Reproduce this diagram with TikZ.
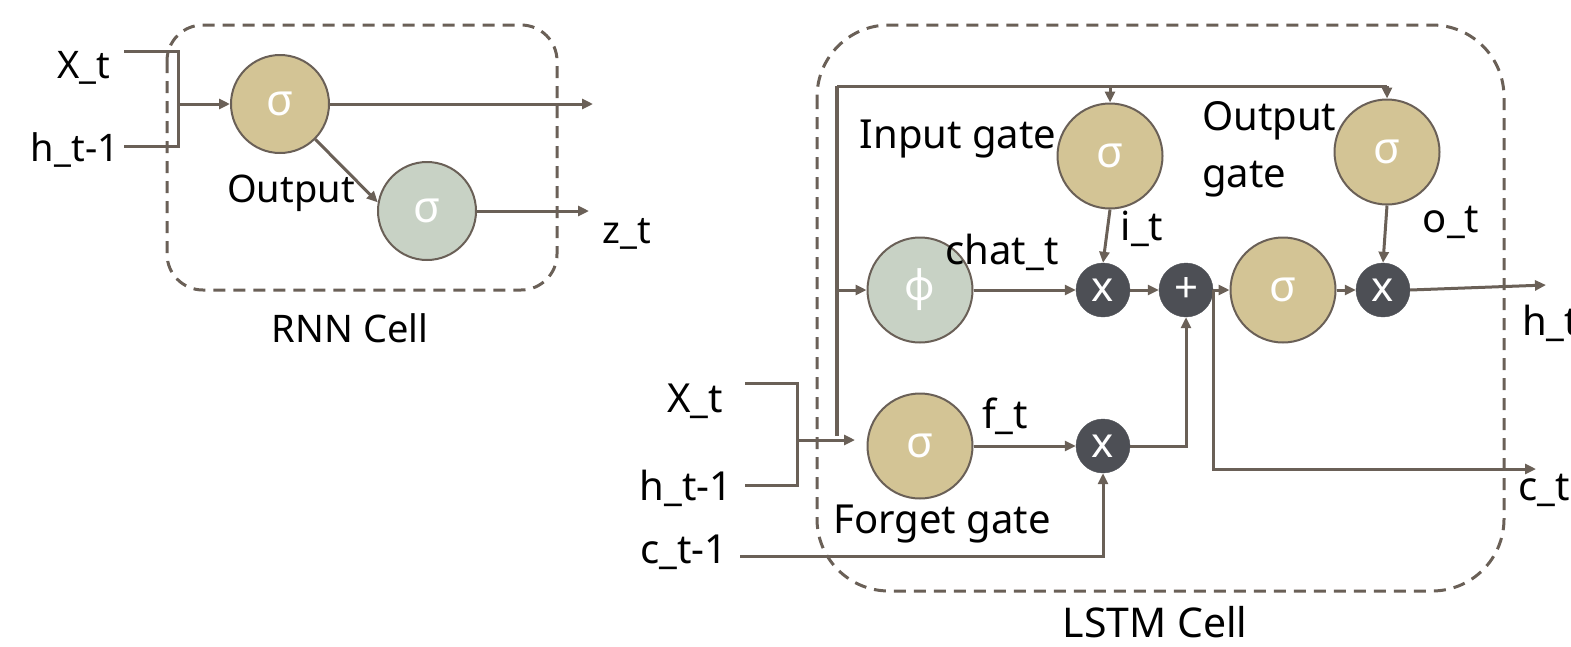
\documentclass[tikz,border=0pt]{standalone}
\usepackage{fontspec}
\setmainfont{Noto Sans}
\usetikzlibrary{arrows.meta}
\definecolor{tanc}{HTML}{D3C495}
\definecolor{sagec}{HTML}{C8D2C5}
\definecolor{darkc}{HTML}{4D4F55}
\definecolor{linec}{HTML}{6A6057}
\tikzset{
  circ/.style={circle, draw=linec, line width=2pt, inner sep=0pt, text=white,
    font=\fontsize{44}{48}\selectfont},
  bigtan/.style={circ, fill=tanc, minimum size=105pt},
  bigsage/.style={circ, fill=sagec, minimum size=105pt},
  rtan/.style={circ, fill=tanc, minimum size=98pt},
  rsage/.style={circ, fill=sagec, minimum size=98pt},
  opc/.style={circle, fill=darkc, draw=darkc, inner sep=0pt, minimum size=54pt, text=white,
    font=\fontsize{42}{46}\selectfont},
  conn/.style={draw=linec, line width=3pt},
  arr/.style={conn, -{Triangle[length=11pt,width=10pt]}},
  dbox/.style={draw=linec, line width=3pt, dash pattern=on 12pt off 8pt},
  lbl/.style={inner sep=0pt, font=\fontsize{40}{46}\selectfont, text=black, anchor=base},
  rlbl/.style={lbl, font=\fontsize{38}{44}\selectfont},
}
\begin{document}
\begin{tikzpicture}[x=1pt,y=-1pt]
\useasboundingbox (0,0) rectangle (1571,646);
% ---------- RNN cell ----------
\draw[dbox, rounded corners=36pt] (167,25) rectangle (557,290);
\node[rtan] (r1) at (280,104) {σ};
\node[rsage] (r2) at (427,211) {σ};
\coordinate (rxa) at (124,51);
\coordinate (rxb) at (178,51);
\coordinate (rha) at (124,146);
\coordinate (rhb) at (178,146);
\coordinate (rj) at (178,104);
\coordinate (rout) at (593,104);
\coordinate (zout) at (589,211);
\draw[conn] (rxa) -- (rxb) -- (rhb) -- (rha);
\draw[arr] (rj) -- (r1.west);
\draw[arr] (r1.east) -- (rout);
\draw[arr] (r1.-45) -- (r2.170);
\draw[arr] (r2.east) -- (zout);
\node[rlbl] (lx1) at (84,78) {X\_t};
\node[rlbl] (lh1) at (75,161) {h\_t-1};
\node[rlbl] (lout) at (291,202) {Output};
\node[rlbl] (lz) at (627,243) {z\_t};
\node[rlbl] (lrnn) at (350,342) {RNN Cell};
% ---------- LSTM cell ----------
\draw[dbox, rounded corners=72pt] (817,25) rectangle (1504,591);
\node[bigtan] (ig) at (1110,156) {σ};
\node[bigtan] (og) at (1387,152) {σ};
\node[bigsage, font=\fontsize{42}{46}\selectfont] (phi) at (920,290) {ϕ};
\node[bigtan] (fg) at (920,446) {σ};
\node[bigtan] (sg) at (1283,290) {σ};
\node[opc] (x1) at (1103,290) {x};
\node[opc] (pl) at (1186,290) {+};
\node[opc] (x3) at (1383,290) {x};
\node[opc] (x2) at (1103,446) {x};
\coordinate (tb) at (837,436);
\coordinate (tt) at (837,86);
\coordinate (tig) at (1110,86);
\coordinate (tog) at (1387,86);
\coordinate (tphi) at (837,290);
\coordinate (bxa) at (745,383);
\coordinate (bxb) at (797,383);
\coordinate (bha) at (745,485);
\coordinate (bhb) at (797,485);
\coordinate (bj) at (797,440);
\coordinate (bend) at (855,440);
\coordinate (cin) at (740,556);
\coordinate (cbr) at (1213,290);
\coordinate (cbd) at (1213,469);
\coordinate (cout) at (1536,469);
\coordinate (hout) at (1546,285);
\draw[conn, line width=4.3pt] (tb) -- (tt);
\draw[conn] (tt) -- (tog);
\draw[arr] (tig) -- (ig.north);
\draw[arr] (tog) -- (og.north);
\draw[arr] (tphi) -- (phi.west);
\draw[conn] (bxa) -- (bxb) -- (bhb) -- (bha);
\draw[arr] (bj) -- (bend);
\draw[arr] (cin) -| (x2.south);
\draw[arr] (fg.east) -- (x2.west);
\draw[arr] (x2.east) -| (pl.south);
\draw[arr] (phi.east) -- (x1.west);
\draw[arr] (ig.south) -- (x1.north);
\draw[arr] (og.south) -- (x3.north);
\draw[arr] (x1.east) -- (pl.west);
\draw[arr] (pl.east) -- (sg.west);
\draw[arr] (sg.east) -- (x3.west);
\draw[arr] (x3.east) -- (hout);
\draw[arr] (cbr) -- (cbd) -- (cout);
\node[lbl] (lig) at (958,148) {Input gate};
\node[lbl] (lch) at (1002,264) {chat\_t};
\node[lbl] (lit) at (1142,240) {i\_t};
\node[lbl, anchor=base west] (log1) at (1202,130) {Output};
\node[lbl, anchor=base west] (log2) at (1202,187) {gate};
\node[lbl] (lot) at (1451,232) {o\_t};
\node[lbl] (lft) at (1005,428) {f\_t};
\node[lbl] (lfg) at (942,533) {Forget gate};
\node[lbl] (lx2) at (695,412) {X\_t};
\node[lbl] (lh2) at (686,500) {h\_t-1};
\node[lbl] (lc2) at (684,563) {c\_t-1};
\node[lbl, font=\fontsize{41}{46}\selectfont] (llstm) at (1155,637) {LSTM Cell};
\node[lbl, anchor=base west] (lht) at (1522,335) {h\_t};
\node[lbl, anchor=base west] (lct) at (1518,500) {c\_t};
\end{tikzpicture}
\end{document}
